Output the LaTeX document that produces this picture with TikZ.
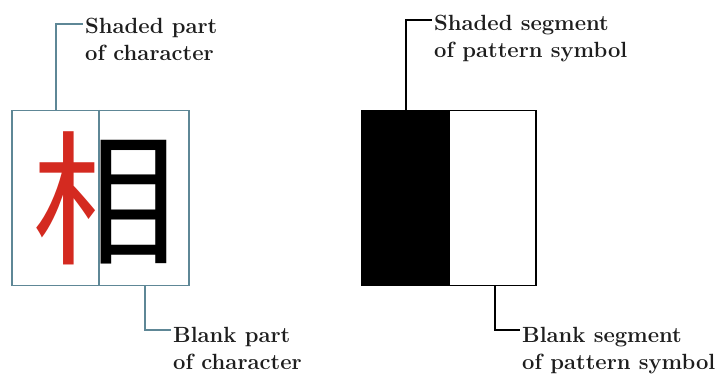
\documentclass[tikz,border=0pt]{standalone}
\usepackage{fontspec}
\newfontfamily\cjk{Noto Sans CJK SC}
\definecolor{boxblue}{HTML}{5E8796}
\definecolor{charred}{HTML}{D42A20}
\definecolor{txt}{HTML}{1E1E1E}
\tikzset{
  labeltext/.style={anchor=north west, inner sep=0pt, align=left, text=txt, font=\bfseries\fontsize{22}{27}\selectfont},
  leftline/.style={draw=boxblue, line width=1.1pt},
  rightline/.style={draw=black, line width=1.3pt},
}
\begin{document}
\begin{tikzpicture}[x=1pt,y=-1pt]
\useasboundingbox[fill=white] (0,0) rectangle (720,373);
% left box
\node[leftline, minimum width=177pt, minimum height=175pt, inner sep=0pt] (lbox) at (100.5,198) {};
\coordinate (ldiv) at (99,0);
\draw[leftline] (ldiv |- lbox.north) -- (ldiv |- lbox.south);
% character
\begin{scope}
\clip (lbox.north west) rectangle (ldiv |- lbox.south);
\node[text=charred, inner sep=0pt, font=\cjk\fontsize{145}{145}\selectfont] (chl) at (105,198) {相};
\end{scope}
\begin{scope}
\clip (ldiv |- lbox.north) rectangle (lbox.south east);
\node[text=black, inner sep=0pt, font=\cjk\fontsize{145}{145}\selectfont] (chr) at (105,198) {相};
\end{scope}
% left labels
\node[labeltext] (lt) at (85,17.7) {Shaded part\\of character};
\node[labeltext] (lb) at (173,326.7) {Blank part\\of character};
\coordinate (ltc) at (56,24);
\coordinate (lbc) at (145,330);
\draw[leftline] (ltc |- lbox.north) -- (ltc) -- ([xshift=-2pt]lt.west |- ltc);
\draw[leftline] (lbc |- lbox.south) -- (lbc) -- ([xshift=-2pt]lb.west |- lbc);
% right box
\node[rightline, minimum width=174pt, minimum height=175pt, inner sep=0pt] (rbox) at (449,198) {};
\coordinate (rdiv) at (450,0);
\fill[black] (rbox.north west) rectangle (rdiv |- rbox.south);
\node[labeltext] (rt) at (434,14.7) {Shaded segment\\of pattern symbol};
\node[labeltext] (rb) at (522,326.7) {Blank segment\\of pattern symbol};
\coordinate (rtc) at (406,20);
\coordinate (rbc) at (495,330);
\draw[rightline] (rtc |- rbox.north) -- (rtc) -- ([xshift=-2pt]rt.west |- rtc);
\draw[rightline] (rbc |- rbox.south) -- (rbc) -- ([xshift=-2pt]rb.west |- rbc);
\end{tikzpicture}
\end{document}
